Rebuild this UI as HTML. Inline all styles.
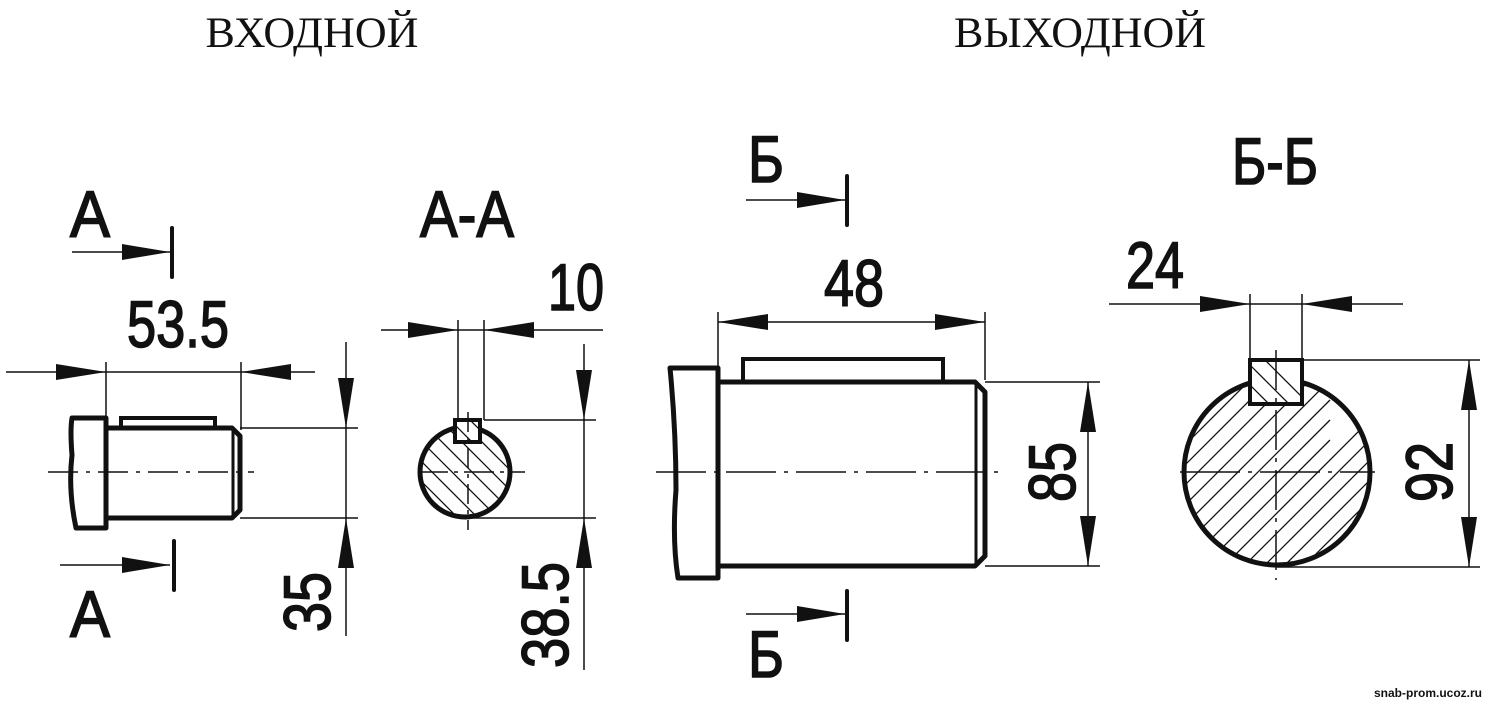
<!DOCTYPE html>
<html><head><meta charset="utf-8"><style>
html,body{margin:0;padding:0;background:#fff;}
svg{display:block;}
.t{font-family:"Liberation Sans",sans-serif;font-weight:normal;fill:#111;stroke:#111;stroke-width:1.6;}
.s{font-family:"Liberation Serif",serif;fill:#111;}
</style></head><body>
<svg width="1500" height="707" viewBox="0 0 1500 707" xmlns="http://www.w3.org/2000/svg">
<defs>
<clipPath id="c1"><circle cx="465" cy="472" r="45"/></clipPath>
<clipPath id="c2"><circle cx="1277" cy="472" r="93"/></clipPath>
<clipPath id="k1"><rect x="455" y="420" width="25" height="22"/></clipPath>
<clipPath id="k2"><rect x="1250" y="360" width="52" height="44"/></clipPath>
</defs>
<rect width="1500" height="707" fill="#fff"/>
<text class="s" x="312" y="47" font-size="43" text-anchor="middle" textLength="213" lengthAdjust="spacingAndGlyphs">ВХОДНОЙ</text>
<text class="s" x="1080" y="47" font-size="43" text-anchor="middle" textLength="252" lengthAdjust="spacingAndGlyphs">ВЫХОДНОЙ</text>

<g stroke="#111" fill="none">
<!-- LEFT SHAFT -->
<path d="M72 418 H106 V528 H76 Q68 490 72 455 Q70 430 72 418 Z" stroke-width="5" stroke-linejoin="round"/>
<path d="M106 428 H232 L240 436 V510 L232 518 H106" stroke-width="5" stroke-linejoin="round"/>
<line x1="233" y1="430" x2="233" y2="516" stroke-width="3"/>
<path d="M121 428 V418 H215 V428" stroke-width="4"/>
<line x1="48" y1="472" x2="254" y2="472" stroke-width="1.5" stroke-dasharray="30,8,4,8"/>
<g stroke-width="1.5">
<line x1="106" y1="362" x2="106" y2="420"/><line x1="241" y1="362" x2="241" y2="430"/>
<line x1="6" y1="372" x2="315" y2="372"/>
<line x1="240" y1="428" x2="358" y2="428"/><line x1="240" y1="518" x2="358" y2="518"/>
<line x1="346" y1="342" x2="346" y2="636"/>
</g>
<line x1="72" y1="252" x2="170" y2="252" stroke-width="1.5"/>
<line x1="172" y1="228" x2="172" y2="277" stroke-width="4" stroke-linecap="round"/>
<line x1="60" y1="565" x2="170" y2="565" stroke-width="1.5"/>
<line x1="174" y1="541" x2="174" y2="590" stroke-width="4" stroke-linecap="round"/>

<!-- A-A section -->
<g clip-path="url(#c1)" stroke-width="1.3">
<line x1="400" y1="400" x2="540" y2="540"/><line x1="400" y1="420" x2="540" y2="560"/>
<line x1="400" y1="440" x2="540" y2="580"/><line x1="400" y1="460" x2="540" y2="600"/>
<line x1="400" y1="380" x2="540" y2="520"/><line x1="400" y1="360" x2="540" y2="500"/>
<line x1="400" y1="340" x2="540" y2="480"/><line x1="400" y1="320" x2="540" y2="460"/>
</g>
<circle cx="465" cy="472" r="45" stroke-width="5"/>
<rect x="455" y="420" width="25" height="22" fill="#fff" stroke="none"/>
<g clip-path="url(#k1)" stroke-width="1.3">
<line x1="440" y1="410" x2="500" y2="470"/><line x1="440" y1="390" x2="500" y2="450"/>
</g>
<rect x="455" y="420" width="25" height="22" stroke-width="4" fill="none"/>
<line x1="418" y1="472" x2="525" y2="472" stroke-width="1.5" stroke-dasharray="30,6,4,6"/>
<line x1="468" y1="412" x2="468" y2="530" stroke-width="1.5" stroke-dasharray="20,6,4,6"/>
<g stroke-width="1.5">
<line x1="381" y1="330" x2="603" y2="330"/>
<line x1="458" y1="320" x2="458" y2="420"/><line x1="484" y1="320" x2="484" y2="420"/>
<line x1="484" y1="420" x2="596" y2="420"/><line x1="470" y1="518" x2="596" y2="518"/>
<line x1="584" y1="344" x2="584" y2="670"/>
</g>

<!-- RIGHT SHAFT -->
<path d="M670 368 H718 V578 H678 Q672 540 676 490 Q676 430 670 368 Z" stroke-width="5" stroke-linejoin="round"/>
<path d="M718 382 H975 L985 392 V556 L975 566 H718" stroke-width="5" stroke-linejoin="round"/>
<line x1="976" y1="385" x2="976" y2="563" stroke-width="3"/>
<path d="M743 382 V359 H943 V382" stroke-width="4"/>
<line x1="656" y1="472" x2="1000" y2="472" stroke-width="1.5" stroke-dasharray="50,8,4,8"/>
<g stroke-width="1.5">
<line x1="718" y1="312" x2="718" y2="372"/><line x1="985" y1="312" x2="985" y2="380"/>
<line x1="718" y1="322" x2="985" y2="322"/>
<line x1="985" y1="382" x2="1100" y2="382"/><line x1="985" y1="566" x2="1100" y2="566"/>
<line x1="1088" y1="382" x2="1088" y2="566"/>
</g>
<line x1="746" y1="200" x2="845" y2="200" stroke-width="1.5"/>
<line x1="847" y1="176" x2="847" y2="225" stroke-width="4" stroke-linecap="round"/>
<line x1="746" y1="614" x2="845" y2="614" stroke-width="1.5"/>
<line x1="847" y1="591" x2="847" y2="640" stroke-width="4" stroke-linecap="round"/>

<!-- Б-Б section -->
<g clip-path="url(#c2)" stroke-width="1.3">
<line x1="1150" y1="540" x2="1330" y2="360"/><line x1="1150" y1="560" x2="1330" y2="380"/>
<line x1="1150" y1="580" x2="1330" y2="400"/><line x1="1150" y1="600" x2="1330" y2="420"/>
<line x1="1150" y1="620" x2="1330" y2="440"/><line x1="1160" y1="630" x2="1370" y2="420"/>
<line x1="1170" y1="640" x2="1380" y2="430"/><line x1="1190" y1="640" x2="1390" y2="440"/>
<line x1="1210" y1="640" x2="1390" y2="460"/><line x1="1230" y1="640" x2="1390" y2="480"/>
<line x1="1250" y1="640" x2="1390" y2="500"/><line x1="1270" y1="640" x2="1390" y2="520"/>
<line x1="1150" y1="520" x2="1330" y2="340"/><line x1="1150" y1="500" x2="1330" y2="320"/>
<line x1="1150" y1="480" x2="1330" y2="300"/><line x1="1150" y1="460" x2="1330" y2="280"/>
<line x1="1150" y1="440" x2="1330" y2="260"/>
</g>
<circle cx="1277" cy="472" r="93" stroke-width="5"/>
<rect x="1250" y="360" width="52" height="44" fill="#fff" stroke="none"/>
<g clip-path="url(#k2)" stroke-width="1.3">
<line x1="1240" y1="355" x2="1300" y2="415"/><line x1="1260" y1="355" x2="1320" y2="415"/><line x1="1240" y1="375" x2="1300" y2="435"/>
</g>
<rect x="1250" y="360" width="52" height="44" stroke-width="4" fill="none"/>
<line x1="1180" y1="472" x2="1375" y2="472" stroke-width="1.5" stroke-dasharray="60,8,4,8"/>
<line x1="1276" y1="350" x2="1276" y2="580" stroke-width="1.5" stroke-dasharray="40,8,4,8"/>
<g stroke-width="1.5">
<line x1="1109" y1="304" x2="1403" y2="304"/>
<line x1="1250" y1="294" x2="1250" y2="360"/><line x1="1302" y1="294" x2="1302" y2="360"/>
<line x1="1302" y1="360" x2="1480" y2="360"/><line x1="1277" y1="567" x2="1480" y2="567"/>
<line x1="1469" y1="360" x2="1469" y2="567"/>
</g>
</g>

<g fill="#111">
<polygon points="106,372 56,364 56,380"/>
<polygon points="241,372 291,364 291,380"/>
<polygon points="346,428 338,378 354,378"/>
<polygon points="346,518 338,568 354,568"/>
<polygon points="170,252 122,244 122,260"/>
<polygon points="170,565 122,557 122,573"/>
<polygon points="458,330 408,322 408,338"/>
<polygon points="484,330 534,322 534,338"/>
<polygon points="584,420 576,370 592,370"/>
<polygon points="584,518 576,568 592,568"/>
<polygon points="718,322 768,314 768,330"/>
<polygon points="985,322 935,314 935,330"/>
<polygon points="845,200 797,192 797,208"/>
<polygon points="845,614 797,606 797,622"/>
<polygon points="1088,382 1080,432 1096,432"/>
<polygon points="1088,566 1080,516 1096,516"/>
<polygon points="1250,304 1200,296 1200,312"/>
<polygon points="1302,304 1352,296 1352,312"/>
<polygon points="1469,360 1461,410 1477,410"/>
<polygon points="1469,567 1461,517 1477,517"/>
</g>

<g class="t" font-size="66">
<text x="127" y="347" textLength="102" lengthAdjust="spacingAndGlyphs">53.5</text>
<text x="70" y="237" textLength="40" lengthAdjust="spacingAndGlyphs">A</text>
<text x="70" y="637" textLength="40" lengthAdjust="spacingAndGlyphs">A</text>
<text x="420" y="237" textLength="94" lengthAdjust="spacingAndGlyphs">A-A</text>
<text x="548" y="310" textLength="56" lengthAdjust="spacingAndGlyphs">10</text>
<text x="824" y="306" textLength="60" lengthAdjust="spacingAndGlyphs">48</text>
<text x="748" y="182" textLength="36" lengthAdjust="spacingAndGlyphs">Б</text>
<text x="748" y="677" textLength="36" lengthAdjust="spacingAndGlyphs">Б</text>
<text x="1232" y="184" textLength="86" lengthAdjust="spacingAndGlyphs">Б-Б</text>
<text x="1126" y="288" textLength="58" lengthAdjust="spacingAndGlyphs">24</text>
<text transform="translate(330,632) rotate(-90)" textLength="60" lengthAdjust="spacingAndGlyphs">35</text>
<text transform="translate(568,668) rotate(-90)" textLength="106" lengthAdjust="spacingAndGlyphs">38.5</text>
<text transform="translate(1075,502) rotate(-90)" textLength="60" lengthAdjust="spacingAndGlyphs">85</text>
<text transform="translate(1452,502) rotate(-90)" textLength="60" lengthAdjust="spacingAndGlyphs">92</text>
</g>
<text x="1428" y="697" font-size="12" text-anchor="middle" font-family="Liberation Sans, sans-serif" font-weight="bold" fill="#111">snab-prom.ucoz.ru</text>
</svg>
</body></html>
